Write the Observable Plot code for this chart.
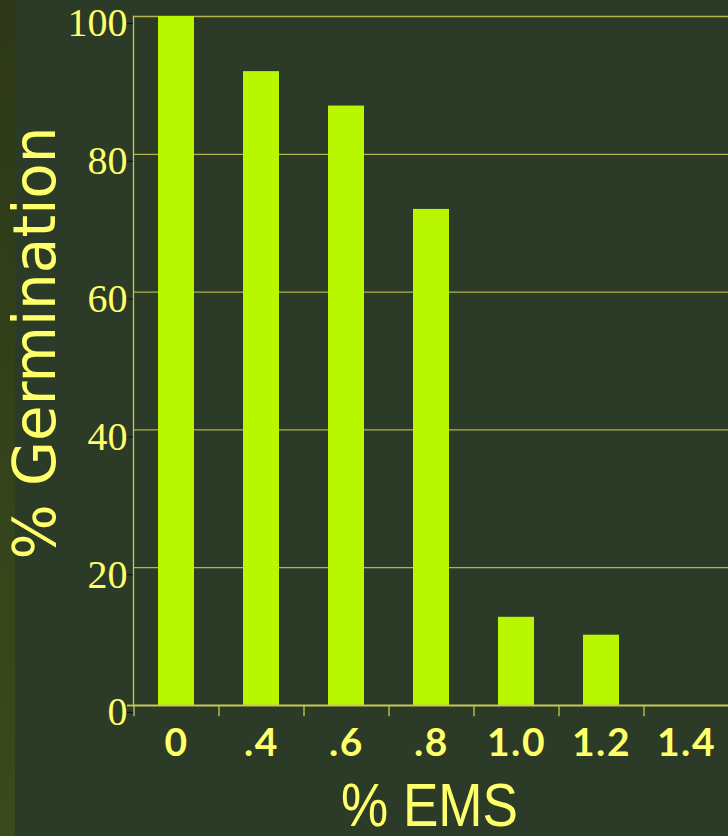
<!DOCTYPE html>
<html>
<head>
<meta charset="utf-8">
<script src="https://cdn.jsdelivr.net/npm/d3@7"></script>
<script src="https://cdn.jsdelivr.net/npm/@observablehq/plot@0.6"></script>
<style>
  html, body { margin: 0; padding: 0; background: #2b3b27; width: 728px; height: 836px; overflow: hidden; }
  #wrap { position: relative; width: 728px; height: 836px; }
  #strip { position: absolute; left: 0; top: 0; width: 15px; height: 836px;
           background: linear-gradient(to bottom, #2e3818, #33421a 50%, #3a4a1b); }
  #chart { position: absolute; left: 0; top: 0; }
</style>
</head>
<body>
<div id="wrap"><div id="strip"></div><div id="chart"></div></div>
<script>
const categories = ["0", ".4", ".6", ".8", "1.0", "1.2", "1.4"];
const germination = [100, 92, 87, 72, 12.8, 10.2, 0];
const yTicks = [0, 20, 40, 60, 80, 100];
const yTitle = "% Germination";
const xTitle = "% EMS";

const data = categories.map((c, i) => ({ems: c, germ: germination[i]}));

const textColor = "#ffff6a";
const gridColor = "#b4b44a";
const barColor = "#b9f700";

const chart = Plot.plot({
  width: 728,
  height: 836,
  marginLeft: 133,
  marginRight: 0,
  marginTop: 16,
  marginBottom: 131,
  style: {background: "transparent", overflow: "visible"},
  x: {domain: categories, paddingInner: 0.58, paddingOuter: 0.29, label: null},
  y: {domain: [0, 100], label: null},
  marks: [
    Plot.gridY(yTicks.filter(d => d > 0), {stroke: gridColor, strokeOpacity: 1, strokeWidth: 1.3}),
    Plot.barY(data, {x: "ems", y: "germ", fill: barColor}),
    Plot.frame({anchor: "left", stroke: "#c8c85a", strokeWidth: 1.3}),
    Plot.ruleY([0], {stroke: "#c8c85a", strokeWidth: 1.8}),
    Plot.ruleX(categories, {x: d => d, dx: -42.5, y1: 0, y2: -1.65, stroke: "#c8c85a", strokeWidth: 1.3}),
    Plot.axisY(yTicks, {
      tickSize: 6, tickPadding: 0, stroke: "#111", strokeWidth: 1.2,
      fontFamily: "Liberation Serif", fontSize: 40, fill: textColor, dy: 7,
      tickFormat: d => String(d), label: null
    }),
    Plot.axisY([0], {tickSize: 6, stroke: "#c8c85a", strokeWidth: 1.8, text: null, label: null}),
    Plot.axisX({
      tickSize: 0, tickPadding: 23,
      fontFamily: "Lato", fontWeight: "bold", fontSize: 39, fill: textColor,
      label: null, className: "xticks"
    }),
    Plot.text([yTitle], {
      frameAnchor: "left", textAnchor: "middle", dx: -97, dy: -18, rotate: -90,
      fontFamily: "DejaVu Sans", fontSize: 58, fill: textColor
    }),
    Plot.text([xTitle], {
      frameAnchor: "bottom", textAnchor: "middle", dx: -1.5, dy: 120,
      fontFamily: "Liberation Sans", fontSize: 62, fill: textColor, className: "xtitle"
    })
  ]
});
// narrow the x title like the reference's condensed face, and space the tick digits
d3.select(chart).selectAll(".xtitle text").attr("textLength", 177).attr("lengthAdjust", "spacingAndGlyphs");
d3.select(chart).selectAll(".xticks text").style("letter-spacing", "1.5px");
document.getElementById("chart").appendChild(chart);
</script>
</body>
</html>
